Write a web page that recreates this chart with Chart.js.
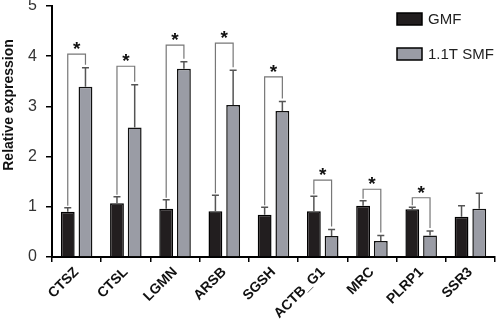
<!DOCTYPE html>
<html>
<head>
<meta charset="utf-8">
<script src="https://cdn.jsdelivr.net/npm/chart.js@4"></script>
<style>
  html, body { margin: 0; padding: 0; background: #fff; }
  #wrap { width: 498px; height: 325px; }
</style>
</head>
<body>
<div id="wrap"><canvas id="chart" width="498" height="325"></canvas></div>
<script>
const genes = ["CTSZ", "CTSL", "LGMN", "ARSB", "SGSH", "ACTB_G1", "MRC", "PLRP1", "SSR3"];
const gmf = [0.90, 1.07, 0.96, 0.91, 0.84, 0.91, 1.02, 0.95, 0.80];
const gmfErr = [0.08, 0.13, 0.18, 0.32, 0.15, 0.30, 0.10, 0.04, 0.22];
const smf = [3.39, 2.58, 3.75, 3.03, 2.91, 0.42, 0.32, 0.43, 0.96];
const smfErr = [0.38, 0.85, 0.14, 0.69, 0.19, 0.13, 0.11, 0.09, 0.31];
// bracket height (in y units) for significant pairs, null = no star
const sigLevel = [4.04, 3.80, 4.22, 4.26, 3.59, 1.53, 1.35, 1.18, null];
const yTicks = [0, 1, 2, 3, 4, 5];

const FONT = "'Liberation Sans', Arial, sans-serif";
const errs = [gmfErr, smfErr];

// error bars (upper only) + significance brackets
const annotate = {
  id: "annotate",
  afterDatasetsDraw(chart) {
    const ctx = chart.ctx;
    const y = chart.scales.y;
    const tops = [[], []];
    ctx.save();
    [0, 1].forEach((di) => {
      const meta = chart.getDatasetMeta(di);
      meta.data.forEach((bar, i) => {
        const v = chart.data.datasets[di].data[i];
        const top = y.getPixelForValue(v + errs[di][i]);
        tops[di][i] = { x: bar.x, y: top };
        ctx.strokeStyle = "#555";
        ctx.lineWidth = 1.5;
        ctx.beginPath();
        ctx.moveTo(bar.x, bar.y);
        ctx.lineTo(bar.x, top);
        ctx.moveTo(bar.x - 3.5, top);
        ctx.lineTo(bar.x + 3.5, top);
        ctx.stroke();
      });
    });
    sigLevel.forEach((lvl, i) => {
      if (lvl == null) return;
      const a = tops[0][i], b = tops[1][i];
      const by = y.getPixelForValue(lvl);
      ctx.strokeStyle = "#777";
      ctx.lineWidth = 1.2;
      ctx.beginPath();
      ctx.moveTo(a.x, a.y - 2);
      ctx.lineTo(a.x, by);
      ctx.lineTo(b.x, by);
      ctx.lineTo(b.x, b.y - 3);
      ctx.stroke();
      ctx.fillStyle = "#111";
      ctx.font = "bold 19px " + FONT;
      ctx.textAlign = "center";
      ctx.textBaseline = "alphabetic";
      ctx.fillText("*", (a.x + b.x) / 2, by + 1);
    });
    ctx.restore();
  },
  afterDraw(chart) {
    const ctx = chart.ctx;
    ctx.save();
    // y axis title
    ctx.translate(9, 105);
    ctx.rotate(-Math.PI / 2);
    ctx.font = "bold 14px " + FONT;
    ctx.fillStyle = "#111";
    ctx.textAlign = "center";
    ctx.textBaseline = "middle";
    ctx.fillText("Relative expression", 0, 0);
    ctx.restore();

    // legend
    ctx.save();
    chart.data.datasets.forEach((ds, i) => {
      const ly = 13 + i * 35;
      ctx.fillStyle = ds.backgroundColor;
      ctx.fillRect(397, ly, 25, 12);
      ctx.strokeStyle = "#000";
      ctx.lineWidth = 1.5;
      ctx.strokeRect(397, ly, 25, 12);
      ctx.fillStyle = "#222";
      ctx.font = "15px " + FONT;
      ctx.textAlign = "left";
      ctx.textBaseline = "middle";
      ctx.fillText(ds.label, 428, ly + 6.5);
    });
    ctx.restore();
  },
};

new Chart(document.getElementById("chart"), {
  type: "bar",
  data: {
    labels: genes,
    datasets: [
      {
        label: "GMF",
        data: gmf,
        backgroundColor: "#221e1f",
        borderColor: "#000",
        borderWidth: 1.5,
        categoryPercentage: 0.72,
        barPercentage: 0.78,
      },
      {
        label: "1.1T SMF",
        data: smf,
        backgroundColor: "#9a9ca5",
        borderColor: "#111",
        borderWidth: 1.5,
        categoryPercentage: 0.72,
        barPercentage: 0.78,
      },
    ],
  },
  options: {
    responsive: false,
    animation: false,
    layout: { padding: { top: 6, right: 3, left: 0, bottom: 0 } },
    plugins: {
      legend: { display: false },
      tooltip: { enabled: false },
    },
    scales: {
      x: {
        afterFit: (s) => { s.height = 68; },
        grid: { display: true, drawOnChartArea: false, drawTicks: true, tickLength: 5, color: "#000", lineWidth: 1.5 },
        border: { display: true, color: "#000", width: 2 },
        ticks: {
          autoSkip: false,
          minRotation: 45,
          maxRotation: 45,
          padding: 2,
          color: "#111",
          font: { family: FONT, size: 14, weight: "bold" },
        },
      },
      y: {
        min: 0,
        max: 5,
        afterFit: (s) => { s.width = 52; s.paddingTop = 0; s.paddingBottom = 0; },
        afterBuildTicks: (s) => { s.ticks = yTicks.map((v) => ({ value: v })); },
        grid: { display: true, drawOnChartArea: false, drawTicks: true, tickLength: 6, color: "#000", lineWidth: 1.5 },
        border: { display: true, color: "#000", width: 2 },
        ticks: {
          padding: 9,
          color: "#333",
          font: { family: FONT, size: 16 },
        },
      },
    },
  },
  plugins: [annotate],
});
</script>
</body>
</html>
